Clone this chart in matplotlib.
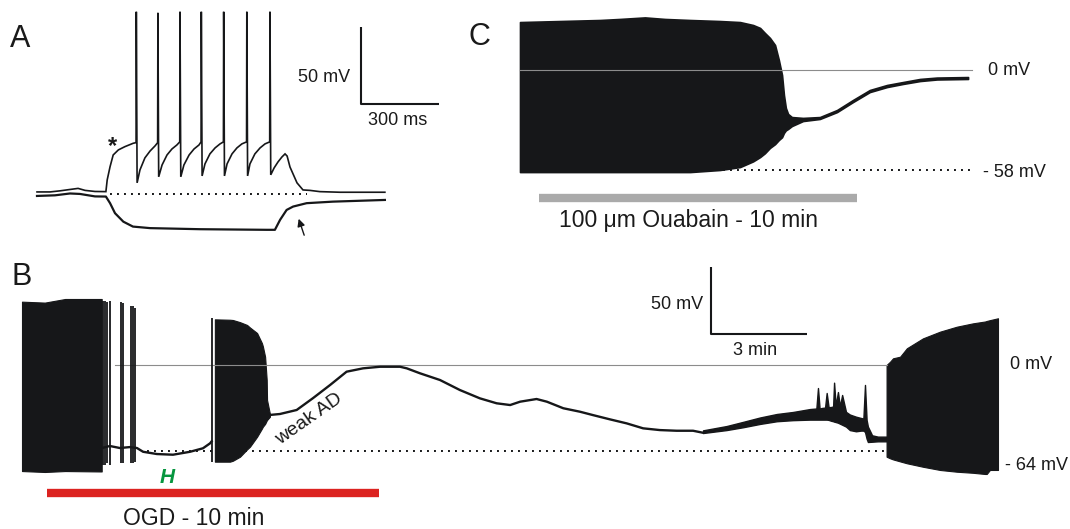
import matplotlib
matplotlib.use('Agg')
import matplotlib.pyplot as plt

plt.rcParams['font.family'] = ['Liberation Sans', 'DejaVu Sans']

W, H = 1070, 529
INK = '#161719'
GRAY = '#8c8c8c'

# ---------------- Panel A: current-clamp steps (ms, mV relative to rest)
a_dep_t = [0, 50, 88, 127, 158, 185, 223, 265, 270, 281, 293, 313, 338, 370, 381,
           382, 385, 396, 415, 435, 454, 464,
           465, 468, 481, 500, 519, 538, 549,
           550, 553, 565, 585, 604, 623, 631,
           632, 635, 646, 665, 685, 704, 717,
           718, 721, 731, 750, 769, 788, 806,
           807, 810, 819, 838, 858, 877, 895,
           896, 899, 912, 927, 942, 954, 962, 973, 1000, 1023, 1050, 1088, 1165, 1338]
a_dep_v = [1.6, 1.6, 2.3, 3.2, 3.9, 2.6, 1.9, 1.8, 9.4, 18.0, 25.6, 28.9, 31.0, 33.2, 33.6,
           118.6, 7.5, 15.9, 23.7, 28.2, 31.5, 33.6,
           117.9, 11.4, 19.1, 25.6, 29.5, 32.1, 34.1,
           118.6, 11.4, 19.1, 25.6, 29.5, 32.1, 34.1,
           118.6, 12.0, 19.8, 26.3, 30.2, 32.8, 34.1,
           118.6, 12.0, 19.8, 26.3, 30.2, 32.8, 34.1,
           118.6, 12.0, 19.8, 26.3, 30.2, 32.8, 34.1,
           118.6, 12.7, 17.2, 21.1, 24.3, 26.3, 24.9, 17.8, 7.5, 2.9, 2.6, 1.8, 1.4, 1.4]
a_hyp_t = [0, 69, 127, 165, 223, 265, 281, 300, 332, 369, 435, 627, 883, 915, 935, 960,
           985, 1037, 1138, 1338]
a_hyp_v = [-1.0, -0.6, 0.6, 0.3, -1.3, -1.4, -5.7, -12.2, -17.7, -20.9, -21.9, -22.6,
           -23.0, -23.0, -16.5, -10.1, -7.9, -5.7, -4.7, -3.6]
a_rest = [281, 1038]

# ---------------- Panel C: ouabain (min, mV)
c_t = [0, 0.63, 1.26, 1.89, 2.52, 3.14, 3.93, 4.56, 5.35, 6.29, 6.92, 7.33, 7.55, 7.70,
       7.86, 8.02, 8.14, 8.24, 8.30, 8.36, 8.43, 8.55, 8.90, 9.43, 9.97, 10.47, 11.0,
       11.54, 12.04, 12.58, 13.11, 14.09]
c_hi = [27.8, 28.1, 28.4, 28.7, 29.0, 29.6, 30.5, 29.6, 29.0, 28.4, 27.8, 26.1, 24.4, 21.5,
        18.6, 14.5, 5.8, -2.9, -14.5, -22.0, -25.5, -27.3, -27.8, -27.3, -23.2, -17.4, -11.6,
        -8.7, -7.0, -5.2, -4.4, -4.1]
c_lo = [-59.2, -59.2, -59.2, -59.2, -59.2, -59.2, -59.2, -59.2, -59.2, -58.0, -56.3, -53.0,
        -50.5, -48.3, -45.2, -43.0, -40.6, -39.0, -36.5, -35.0, -34.2, -32.5, -29.6, -28.4,
        -24.4, -18.6, -12.8, -9.9, -8.1, -6.4, -5.5, -5.2]
c_ouabain = [0.6, 10.6]

# ---------------- Panel B: OGD (min, mV)
b1_t = [0, 0.71, 1.34, 2.42, 2.475]
b1_hi = [47.3, 46.6, 49.3, 49.3, 49.3]
b1_lo = [-79.2, -79.9, -79.2, -79.5, -79.5]

b_spk_t = [2.52, 2.58, 2.64, 2.73, 3.07, 3.14, 3.39, 3.45, 3.52, 5.89]
b_spk_top = [48.0, 48.0, 47.3, 48.0, 47.3, 46.6, 44.1, 44.1, 42.6, 35.1]
b_spk_bot = [-74.7, -74.7, -73.4, -74.7, -73.4, -73.4, -73.0, -73.0, -72.2, -72.2]

b_gap_t = [2.48, 2.73, 3.04, 3.35, 3.57, 3.76, 4.19, 4.69, 5.22, 5.62, 5.84, 5.89]
b_gap_v = [-62.0, -60.5, -62.0, -61.3, -62.0, -64.8, -66.5, -67.0, -64.8, -62.2, -58.5, -57.0]

b2_t = [5.99, 6.46, 6.55, 6.77, 6.99, 7.08, 7.30, 7.45, 7.48, 7.55, 7.60, 7.61, 7.70]
b2_hi = [34.1, 33.8, 33.6, 32.0, 29.9, 28.0, 23.9, 16.4, 14.0, 6.2, -11.2, -26.1, -36.6]
b2_lo = [-72.2, -72.2, -71.5, -68.5, -63.0, -61.0, -53.6, -47.5, -46.1, -44.0, -41.5, -41.1, -38.6]

b_ad_t = [7.70, 8.01, 8.53, 9.04, 9.57, 10.08, 10.59, 11.12, 11.74, 11.95, 12.36, 12.98,
          13.60, 14.22, 14.74, 15.16, 15.47, 15.98, 16.30, 16.81, 17.33, 17.73, 18.26,
          18.78, 19.29, 19.81, 20.33, 20.84, 21.15]
b_ad_v = [-37.3, -36.6, -33.6, -24.7, -14.9, -5.0, -2.5, -1.3, -1.3, -2.5, -6.2, -11.2,
          -18.7, -24.9, -28.6, -29.9, -27.4, -25.4, -27.4, -32.3, -34.9, -37.4, -40.6,
          -43.6, -47.3, -48.6, -49.1, -49.1, -50.6]

b_noise_t = [21.15, 21.88, 22.39, 22.92, 23.44, 23.94, 24.47, 24.67, 24.72, 24.77, 24.84,
             24.94, 24.99, 25.05, 25.12, 25.19, 25.22, 25.27, 25.34, 25.40, 25.47, 25.59,
             25.71, 25.90, 26.06, 26.13, 26.18, 26.23, 26.27, 26.40, 26.58, 26.85]
b_noise_hi = [-48.8, -45.6, -42.5, -39.2, -36.6, -35.1, -32.9, -32.5, -17.2, -32.5, -32.1,
              -31.8, -20.9, -31.5, -31.4, -31.0, -13.2, -30.5, -20.2, -31.0, -22.4, -35.0,
              -37.0, -38.6, -39.6, -40.0, -14.9, -41.0, -46.0, -52.5, -53.5, -53.5]
b_noise_lo = [-50.8, -48.6, -46.5, -44.0, -42.0, -41.2, -40.8, -40.8, -40.8, -40.8, -40.8,
              -40.8, -40.8, -41.0, -41.6, -42.0, -42.3, -42.6, -43.1, -43.8, -44.6, -46.0,
              -48.6, -49.5, -49.0, -49.0, -50.0, -55.0, -57.5, -57.3, -57.0, -57.0]

b3_t = [26.85, 26.96, 27.05, 27.27, 27.48, 27.98, 28.51, 29.03, 29.53, 29.91, 29.96, 30.06, 30.31]
b3_hi = [0.0, 2.5, 5.0, 6.2, 12.5, 19.9, 24.9, 28.6, 31.1, 32.5, 32.9, 33.5, 34.9]
b3_lo = [-68.5, -69.7, -70.5, -72.0, -73.4, -76.0, -78.4, -79.7, -80.5, -81.4, -81.4, -78.4, -78.4]

b_zero = [2.89, 26.85]
b_rest = [3.88, 26.8]
b_ogd = [0.77, 11.09]


fig = plt.figure(figsize=(W / 100, H / 100), dpi=100)


def panel(x0, y0, sx, sy):
    # full-figure axes where data (0, 0) sits at pixel (x0, y0); sx px/unit, sy px/mV
    ax = fig.add_axes([0, 0, 1, 1])
    ax.set_xlim(-x0 / sx, (W - x0) / sx)
    ax.set_ylim((y0 - H) / sy, y0 / sy)
    ax.axis('off')
    return ax


def ftext(x, y, s, **kw):
    kw.setdefault('color', '#1a1a1a')
    return fig.text(x / W, 1 - y / H, s, **kw)


dots = dict(color=INK, lw=1.4, linestyle=(0, (1, 2.6)))
bar = dict(color=INK, lw=1.5, solid_capstyle='butt')

# ---- A
axA = panel(37, 194.4, 0.26, 1.54)
axA.plot(a_rest, [0, 0], **dots)
axA.plot(a_hyp_t, a_hyp_v, color=INK, lw=1.6, solid_joinstyle='round')
axA.plot(a_dep_t, a_dep_v, color=INK, lw=1.2, solid_joinstyle='miter')
axA.plot([1246, 1246, 1546], [108.7, 58.7, 58.7], **bar)
axA.annotate('', xy=(1003, -14.1), xytext=(1031, -28.2),
             arrowprops=dict(arrowstyle='-|>', color=INK, lw=1.0, mutation_scale=11))
ftext(10, 47, 'A', fontsize=22)
ftext(350, 82, '50 mV', fontsize=13, ha='right')
ftext(398, 125, '300 ms', fontsize=13, ha='center')
ftext(113, 153, '*', fontsize=17, fontweight='bold', ha='center')

# ---- C
axC = panel(520, 70, 31.8, 1.724)
axC.plot([0, 14.2], [0, 0], color=GRAY, lw=0.8)
axC.plot([0, 14.15], [-58, -58], **dots)
axC.fill_between(c_t, c_lo, c_hi, facecolor=INK, edgecolor=INK, lw=1.2)
axC.plot(c_ouabain, [-74.2, -74.2], color='#aaaaaa', lw=6, solid_capstyle='butt')
ftext(468, 45, 'C', fontsize=22)
ftext(988, 75, '0 mV', fontsize=13)
ftext(983, 177, '- 58 mV', fontsize=13)
ftext(559, 227, '100 \u03bcm Ouabain - 10 min', fontsize=16.5)

# ---- B
axB = panel(22, 365, 32.2, 1.339)
axB.plot(b_zero, [0, 0], color=GRAY, lw=0.8)
axB.plot(b_rest, [-64, -64], **dots)
axB.fill_between(b1_t, b1_lo, b1_hi, facecolor=INK, edgecolor=INK, lw=0.8)
axB.vlines(b_spk_t, b_spk_bot, b_spk_top, color=INK, lw=1.3)
axB.plot(b_gap_t, b_gap_v, color=INK, lw=1.7)
axB.fill_between(b2_t, b2_lo, b2_hi, facecolor=INK, edgecolor=INK, lw=0.8)
axB.plot(b_ad_t, b_ad_v, color=INK, lw=1.7)
axB.fill_between(b_noise_t, b_noise_lo, b_noise_hi, facecolor=INK, edgecolor=INK, lw=1.0)
axB.fill_between(b3_t, b3_lo, b3_hi, facecolor=INK, edgecolor=INK, lw=0.8)
axB.plot(b_ogd, [-95.8, -95.8], color='#dc2320', lw=6, solid_capstyle='butt')
axB.plot([21.39, 21.39, 24.39], [73.5, 23.5, 23.5], **bar)
ftext(12, 285, 'B', fontsize=22)
ftext(703, 309, '50 mV', fontsize=13, ha='right')
ftext(755, 355, '3 min', fontsize=13, ha='center')
ftext(1010, 369, '0 mV', fontsize=13)
ftext(1005, 470, '- 64 mV', fontsize=13)
ftext(160, 483, 'H', fontsize=15, fontweight='bold', fontstyle='italic', color='#07963f')
ftext(123, 525, 'OGD - 10 min', fontsize=16.5)
ftext(309, 419, 'weak AD', fontsize=14, rotation=35, ha='center', va='center',
      rotation_mode='anchor')

fig.savefig('out.png', dpi=100)
